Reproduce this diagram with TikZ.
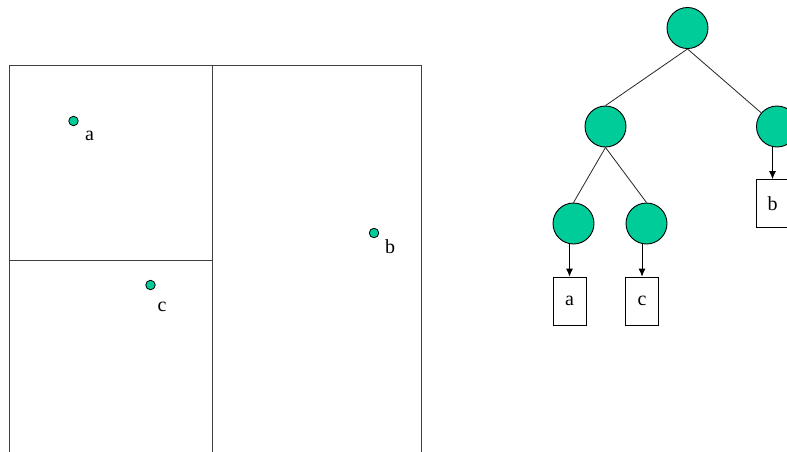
\documentclass[tikz,border=0pt]{standalone}
\usepackage{fontspec}
\setmainfont{Liberation Serif}
\usetikzlibrary{arrows.meta}
\definecolor{tealgreen}{RGB}{0,204,153}
\definecolor{linegray}{RGB}{64,64,64}
\tikzset{
  treenode/.style={circle,draw=black,fill=tealgreen,minimum size=41pt,inner sep=0pt,line width=0.9pt},
  leafbox/.style={rectangle,draw=black,fill=white,minimum width=33pt,minimum height=48pt,inner sep=0pt,line width=0.8pt,font=\fontsize{20pt}{22pt}\selectfont},
  pt/.style={circle,draw=black,fill=tealgreen,minimum size=9.5pt,inner sep=0pt,line width=0.8pt},
  ptlabel/.style={anchor=base,inner sep=0pt,font=\fontsize{20pt}{22pt}\selectfont},
  edge/.style={draw=black!85,line width=0.8pt},
  ptr/.style={draw=black,line width=0.8pt,-{Latex[length=8pt,width=7pt]}},
  region/.style={draw=linegray,line width=1pt}
}
\begin{document}
\begin{tikzpicture}[x=1pt,y=-1pt]
\useasboundingbox[fill=white] (0,0) rectangle (787,451);
% spatial partition
\coordinate (tl) at (9,65);
\coordinate (tr) at (421,65);
\coordinate (bl) at (9,460);
\coordinate (br) at (421,460);
\coordinate (mt) at (212,65);
\coordinate (mb) at (212,460);
\coordinate (hl) at (9,260);
\coordinate (hr) at (212,260);
\draw[region] (bl) -- (tl) -- (tr) -- (br);
\draw[region] (mt) -- (mb);
\draw[region] (hl) -- (hr);
% points
\node[pt] (pa) at (73.5,121) {};
\node[ptlabel] (la) at (89.5,140) {a};
\node[pt] (pb) at (374,233) {};
\node[ptlabel] (lb) at (390,253) {b};
\node[pt] (pc) at (150.5,285) {};
\node[ptlabel] (lc) at (162,311) {c};
% tree
\node[treenode] (root) at (687.5,28) {};
\node[treenode] (lch) at (605.5,126.5) {};
\node[treenode] (rch) at (777,126.5) {};
\node[treenode] (ll) at (573.5,223.5) {};
\node[treenode] (lr) at (646.5,223.5) {};
\node[leafbox] (ba) at (569.5,301) {a};
\node[leafbox] (bc) at (642,301) {c};
\node[leafbox] (bb) at (772.5,203.5) {b};
\draw[edge] (root.south) -- (lch.north);
\draw[edge] (root.south) -- (rch);
\draw[edge] (lch.south) -- (ll.north);
\draw[edge] (lch.south) -- (lr.north);
\draw[ptr] (ll.south -| ba.north) -- (ba.north);
\draw[ptr] (lr.south -| bc.north) -- (bc.north);
\draw[ptr] (rch.south -| bb.north) -- (bb.north);
\end{tikzpicture}
\end{document}
